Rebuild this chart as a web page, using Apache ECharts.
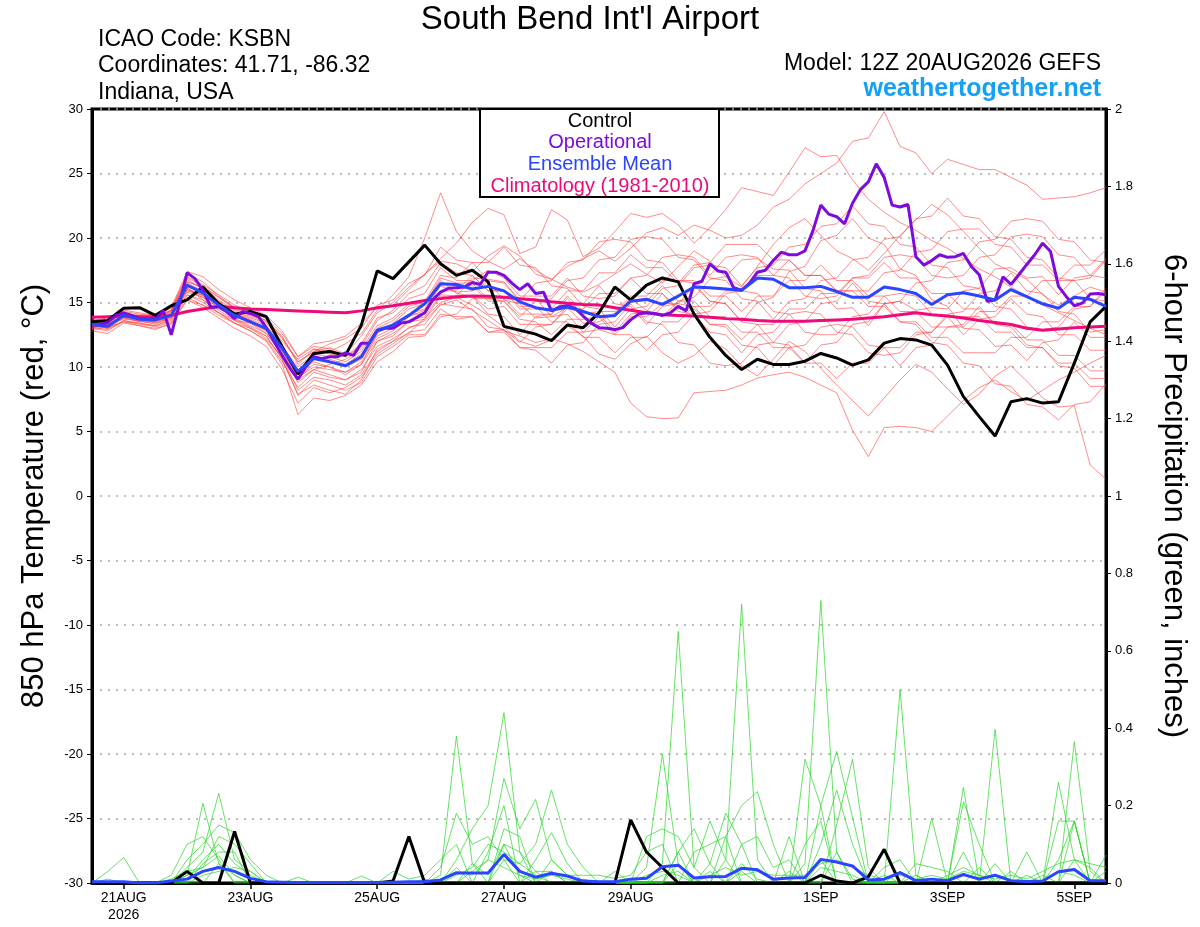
<!DOCTYPE html>
<html><head><meta charset="utf-8">
<script src="https://cdn.jsdelivr.net/npm/echarts@6/dist/echarts.min.js"></script>
<style>html,body{margin:0;padding:0;background:#fff}#c{width:1200px;height:927px}</style>
</head><body><div id="c"></div><script>
// ---- x domain: 3-hourly steps from 20AUG2026 12Z to 5SEP2026 12Z (129 steps)
const months = ['AUG','SEP'];
const timeCats = [];
for (let j = 0; j <= 128; j++) {
  const h = 12 + j * 3; const d = 20 + Math.floor(h / 24);
  const day = d > 31 ? d - 31 : d; const mon = d > 31 ? months[1] : months[0];
  timeCats.push(day + mon + ' ' + String(h % 24).padStart(2, '0') + 'Z');
}
const tickIndex = [4, 20, 36, 52, 68, 92, 108, 124];
const tickText = ['21AUG\n2026', '23AUG', '25AUG', '27AUG', '29AUG', '1SEP', '3SEP', '5SEP'];

// ---- 850 hPa temperature (deg C), 6-hourly (65 values)
const control = [13.5,13.6,14.55,14.6,14.0,14.75,15.2,16.2,14.9,14.1,
 14.3,13.9,11.55,9.45,11.05,11.2,10.9,13.25,17.45,16.85,
 18.15,19.45,18.0,17.1,17.5,16.6,13.15,12.85,12.55,12.05,
 13.25,13.05,14.2,16.2,15.2,16.35,16.9,16.6,14.1,12.3,
 10.9,9.8,10.6,10.2,10.2,10.45,11.05,10.7,10.15,10.55,
 11.85,12.2,12.1,11.7,10.15,7.7,6.15,4.65,7.3,7.55,
 7.2,7.3,10.3,13.5,14.7];
const ensMean = [13.3,13.15,14.0,13.7,13.65,14.0,16.35,15.75,14.8,14.0,
 13.5,13.0,11.45,9.65,10.65,10.4,10.1,10.8,12.85,13.25,
 14.0,14.9,16.45,16.4,16.05,16.25,15.9,15.05,14.6,14.4,
 14.65,14.3,13.9,14.0,15.1,15.25,14.85,15.5,16.2,16.15,
 16.05,15.95,16.9,16.8,16.15,16.15,16.25,15.85,15.4,15.4,
 16.2,16.0,15.7,14.85,15.6,15.75,15.5,15.2,16.0,15.45,
 14.9,14.55,15.4,15.25,14.7];
const climatology = [13.85,13.9,13.95,13.9,13.85,14.0,14.3,14.5,14.7,14.6,
 14.5,14.45,14.4,14.35,14.3,14.25,14.2,14.35,14.6,14.75,
 14.95,15.15,15.3,15.45,15.5,15.48,15.4,15.3,15.2,15.05,
 14.95,14.85,14.8,14.6,14.4,14.2,14.05,14.0,13.95,13.85,
 13.75,13.7,13.6,13.55,13.55,13.55,13.6,13.65,13.7,13.8,
 13.9,14.05,14.2,14.05,13.95,13.8,13.6,13.45,13.3,13.0,
 12.85,12.95,13.05,13.1,13.15];
// operational run, 3-hourly (129 values)
const operational = [13.25,13.3,13.45,14.0,14.2,14.0,13.75,13.7,13.7,14.35,
 12.5,14.8,17.3,16.85,15.95,14.65,14.65,14.3,13.75,14.3,
 14.15,13.9,13.05,11.95,10.9,9.9,9.05,10.0,10.8,10.65,
 10.8,10.8,11.1,10.9,11.85,11.85,12.8,13.0,13.0,13.4,
 13.5,13.85,14.2,15.2,15.8,16.1,16.15,16.2,16.55,16.4,
 17.35,17.35,17.1,16.5,16.0,16.45,15.7,15.8,14.35,14.65,
 14.75,14.55,13.95,13.4,13.05,13.0,12.9,13.05,13.65,14.1,
 14.2,14.15,14.0,14.2,14.7,14.35,16.45,16.65,18.0,17.45,
 17.35,16.15,15.95,16.5,17.35,17.5,18.25,18.9,18.7,18.7,
 19.0,20.55,22.55,21.85,21.65,21.1,22.7,23.75,24.35,25.75,
 24.7,22.55,22.4,22.6,18.55,17.9,18.25,18.7,18.5,18.55,
 18.8,17.8,17.15,15.1,15.2,17.0,16.4,17.15,17.95,18.7,
 19.6,18.95,16.25,15.45,14.75,14.95,15.65,15.7,15.6];
// ensemble members (6-hourly)
const tMembers = [
 [13.2,13.5,13.9,14.0,13.8,14.4, 17.2,16.6,15.5,14.6,14.2,13.6,12.2, 10.4,11.2,11.5,11.0,12.4,14.2,
  15.0,16.2,17.2,18.2,18.0,17.4,18.6,19.4,18.6,17.2,16.8,17.8, 18.4,19.0,18.2,19.2,20.4,20.8,20.2,21.0,20.6,20.0,
  20.2,21.0,22.4,23.0,24.2,25.0,25.8,27.5,27.75,29.8,27.1,26.6, 25.0,26.1,25.7,25.3,25.3,24.7,24.1,23.0,23.1,23.2,23.5,23.9],
 [13.5,13.0,14.2,13.8,13.4,13.9, 15.8,15.4,14.6,13.7,13.1,12.4,10.6, 7.9,8.6,8.2,7.9,9.0,11.4,
  12.0,12.6,13.8,15.0,15.4,14.8,14.0,13.1,12.0,11.6,12.1,13.2, 12.4,11.0,10.6,11.8,12.4,11.1,10.3,10.9,12.0,11.4,
  10.1,9.3,10.6,12.0,11.2,9.9,8.6,7.4,6.2,7.6,9.0,10.2, 9.6,8.3,7.1,7.9,9.3,10.1,8.9,7.6,6.9,7.0,2.4,1.3],
 [13.1,12.9,13.6,13.3,13.2,13.7, 15.6,15.2,14.2,13.4,12.8,12.1,10.4, 8.4,9.6,9.2,9.0,9.8,11.6,
  12.2,13.0,13.6,14.8,15.2,14.4,13.6,12.8,12.4,11.9,12.2,11.8, 11.2,10.4,9.6,7.2,6.15,6.0,6.05,8.0,8.1,8.2,
  8.6,9.15,9.4,9.6,9.2,8.6,8.0,5.1,3.05,5.3,5.4,5.3, 5.0,6.2,7.4,8.4,9.0,8.1,7.4,8.2,9.0,9.6,10.3,10.9],
 [13.6,13.4,14.3,14.1,13.9,14.3, 16.6,16.2,15.4,14.6,14.0,13.6,12.4, 10.2,11.4,11.2,11.8,12.6,14.4,
  15.6,17.0,20.0,23.5,20.5,19.0,18.2,17.6,18.4,17.5,16.8,16.2, 15.8,16.4,17.2,18.0,17.2,16.5,17.8,19.0,18.2,17.0,
  16.2,17.8,19.5,20.8,21.5,20.2,19.0,18.4,17.5,18.8,20.2,21.4, 22.6,21.8,20.5,19.2,18.0,17.4,16.8,15.6,14.8,15.5,16.2,15.8],
 [13.3,13.6,14.1,13.9,14.0,14.6, 17.4,17.0,16.0,15.2,14.6,14.0,12.8, 10.8,11.8,12.0,12.4,13.4,14.6,
  14.8,16.0,17.2,18.4,19.6,21.2,22.3,21.8,18.8,19.3,22.2,21.4, 18.55,19.2,20.5,21.9,21.6,21.9,21.0,19.6,20.8,22.2,
  23.9,23.6,23.3,25.1,27.0,26.3,26.4,24.5,23.0,22.0,21.2,20.6, 19.8,19.2,18.4,17.6,17.0,16.2,15.5,14.8,14.2,13.6,13.0,12.5],
 [13.0,13.3,13.7,13.6,13.3,13.8, 16.0,15.6,14.9,14.2,13.6,12.8,11.2, 9.2,10.2,10.0,9.6,10.4,12.2,
  12.8,13.9,14.4,16.3,15.8,15.9,16.6,15.2,14.9,13.8,13.9,14.6, 13.4,13.5,14.2,15.3,14.4,13.9,15.1,15.4,16.8,17.0,
  18.3,18.4,17.6,17.5,16.1,15.9,14.5,14.6,13.2,14.9,15.1,14.4, 14.6,14.5,15.9,16.1,17.6,17.7,16.9,17.0,15.6,16.9,17.1,18.4],
 [13.4,13.1,13.9,13.5,13.6,14.1, 16.2,15.2,14.4,13.6,13.4,12.6,11.0, 8.8,9.8,9.4,9.0,9.6,12.0,
  12.4,13.6,13.9,15.6,15.5,16.9,16.8,16.6,15.2,15.3,13.9,14.1, 12.7,12.9,12.5,13.9,13.9,14.9,14.9,16.3,15.1,14.9,
  13.5,15.0,15.4,17.4,17.8,19.8,20.2,21.5,20.0,19.5,17.6,17.1, 15.2,14.7,13.0,12.9,11.6,11.7,10.5,11.9,12.1,13.5,12.3,12.3],
 [13.2,13.0,13.5,13.4,13.1,13.5, 15.4,14.8,14.0,13.4,12.8,12.0,10.2, 6.3,7.6,7.4,7.8,8.6,10.4,
  11.2,12.3,12.4,13.9,14.1,15.3,15.3,15.1,13.7,13.5,12.5,13.7, 13.7,13.9,12.5,12.5,11.3,12.5,12.7,14.1,14.3,15.7,
  15.9,15.7,14.3,14.1,12.7,12.5,12.5,13.9,14.1,15.5,15.7,15.5, 14.1,13.9,12.5,13.7,13.9,15.3,14.1,13.9,12.5,12.5,11.3,11.3],
 [13.7,13.5,14.4,14.2,14.0,14.6, 17.0,16.4,15.6,14.8,14.2,13.8,12.6, 10.8,11.6,11.4,10.8,11.6,13.6,
  14.4,15.7,16.3,18.1,17.3,17.1,15.9,15.9,14.5,14.5,14.5,15.9, 15.9,17.3,17.3,18.7,17.7,17.7,16.5,17.9,18.1,19.5,
  19.5,19.5,18.3,18.3,17.1,17.1,15.9,15.9,15.9,17.3,17.5,18.9, 19.1,20.5,20.7,20.7,19.5,19.3,17.9,17.9,16.7,16.7,16.9,18.3],
 [12.8,12.6,13.4,13.2,12.9,13.4, 15.2,14.6,13.8,13.0,12.4,11.6,9.8, 7.2,8.4,8.0,8.4,9.2,11.0,
  11.8,12.7,12.9,14.5,13.7,13.9,12.7,12.9,11.9,13.1,13.3,14.7, 14.9,16.3,14.9,14.7,13.3,14.7,14.9,14.7,13.3,13.1,
  11.7,11.5,10.1,11.5,11.7,13.1,13.3,13.1,11.7,11.5,10.1,11.5, 11.7,13.1,13.3,14.7,13.3,13.1,11.7,11.5,10.1,9.9,8.5,8.5],
 [13.5,13.3,14.0,13.7,13.8,14.2, 16.4,15.8,15.0,14.2,13.6,13.0,11.6, 10.0,11.0,10.8,10.4,11.2,13.0,
  13.6,14.7,15.1,17.1,16.9,18.1,18.1,19.3,17.9,17.7,16.3,16.1, 14.7,14.5,13.1,14.5,14.7,16.1,16.3,17.7,17.9,17.7,
  16.3,17.7,17.9,19.3,19.5,20.9,21.1,22.5,21.1,20.9,19.5,19.3, 17.9,17.7,16.3,16.1,14.7,14.5,13.1,12.9,13.1,14.5,14.7,16.1],
 [13.1,13.4,13.8,13.6,13.5,14.0, 16.0,15.4,14.6,13.8,13.2,12.6,11.0, 9.0,9.8,10.2,10.6,11.4,13.2,
  13.8,14.9,14.9,16.7,15.7,15.5,14.1,13.9,12.5,13.9,14.1,15.5, 14.3,14.1,12.7,14.1,14.3,15.7,14.3,14.1,12.7,12.5,
  11.1,12.5,12.7,14.1,14.3,14.1,12.7,12.5,11.1,10.9,11.1,12.5, 12.7,14.1,14.3,15.7,15.9,17.3,15.9,15.7,14.3,14.1,12.7,12.9],
 [13.4,13.2,14.1,13.8,13.7,14.3, 16.8,16.0,15.0,14.0,13.4,12.8,11.4, 9.4,10.6,10.4,10.0,10.6,12.4,
  13.0,14.1,14.5,16.5,16.3,16.3,15.1,15.1,13.9,15.1,15.3,16.7, 16.9,18.3,18.5,19.9,20.1,19.9,18.5,18.3,16.9,16.7,
  15.3,15.1,13.7,15.1,15.3,16.7,16.9,18.3,18.5,19.9,20.1,21.5, 21.7,23.1,21.7,21.5,20.1,19.9,18.5,18.3,16.9,16.7,15.3,15.1],
 [13.0,12.8,13.6,13.4,13.2,13.6, 15.6,15.0,14.2,13.6,13.0,12.2,10.8, 8.2,9.2,9.0,8.6,9.4,11.2,
  12.0,13.1,13.3,14.9,14.7,14.5,13.1,12.9,11.5,11.3,10.3,11.7, 11.9,13.3,13.5,14.9,13.5,13.3,11.9,11.7,10.3,10.1,
  10.3,11.7,11.9,13.3,13.5,14.9,15.1,16.5,15.1,14.9,13.5,13.3, 11.9,11.7,10.3,10.1,8.7,8.5,7.1,6.9,5.9,7.1,7.3,8.7],
 [13.6,13.8,14.2,14.0,14.1,14.4, 16.6,16.2,15.2,14.4,13.8,13.4,12.0, 10.6,11.4,11.0,10.8,11.8,13.8,
  14.2,15.3,15.7,17.7,16.7,16.7,17.5,16.9,15.5,15.5,15.5,16.9, 15.5,15.3,15.5,16.9,17.1,18.5,18.7,18.5,17.1,18.5,
  18.7,18.5,17.1,16.9,15.5,15.3,15.5,16.9,17.1,18.5,18.7,18.5, 17.1,16.9,17.1,18.5,18.7,20.1,20.3,20.1,18.7,18.5,17.1,16.9],
 [13.2,13.0,13.8,13.5,13.4,13.8, 15.9,15.6,14.7,14.0,13.6,12.9,11.6, 9.8,10.8,10.6,10.2,11.0,12.8,
  13.2,14.1,14.1,15.9,15.9,17.1,15.9,15.9,14.7,14.7,13.5,13.5, 12.3,12.3,11.1,12.3,12.3,13.5,13.5,14.7,14.7,15.9,
  15.9,17.1,17.1,18.3,17.1,17.1,15.9,15.9,14.7,14.7,13.5,13.5, 12.3,12.3,11.1,11.1,11.1,12.3,12.3,13.5,13.5,14.7,14.7,15.9],
 [13.3,13.6,14.0,13.8,13.6,14.1, 16.5,15.9,15.1,14.3,13.7,13.2,11.8, 9.6,10.4,10.0,9.4,10.2,12.6,
  13.4,14.5,14.9,16.9,16.5,16.5,15.3,15.3,14.1,14.1,14.1,15.3, 14.1,14.3,14.3,15.5,15.5,16.7,16.7,16.7,15.5,15.5,
  14.3,15.5,15.5,16.7,16.7,17.9,16.7,16.7,15.5,15.5,14.3,14.3, 13.1,13.1,13.1,14.3,14.3,15.5,15.5,16.7,16.7,17.9,17.9,19.1],
 [12.9,13.1,13.5,13.2,13.0,13.3, 15.2,14.8,14.2,13.4,13.0,12.4,10.6, 7.8,9.0,8.6,8.2,8.8,10.8,
  11.6,12.5,12.5,14.1,13.9,13.9,12.7,12.7,11.5,11.5,11.5,12.7, 12.7,13.9,13.9,15.1,15.1,16.3,15.1,15.1,13.9,13.9,
  12.7,12.7,11.5,11.5,10.3,10.3,9.1,10.3,10.3,11.5,11.5,12.7, 12.7,13.9,13.9,13.9,12.7,12.7,11.5,11.5,10.3,10.3,9.1,9.1],
 [13.6,13.4,14.2,13.9,13.8,14.4, 16.9,16.3,15.4,14.5,13.9,13.5,12.3, 10.4,11.2,11.8,12.2,13.0,14.8,
  15.2,16.5,17.1,19.3,18.3,18.1,16.7,16.5,15.1,16.5,16.7,18.1, 18.3,19.7,19.9,19.7,18.3,18.1,16.7,16.5,15.1,14.9,
  13.5,13.3,11.9,11.7,10.3,11.7,11.9,13.3,13.5,14.9,15.1,16.5, 16.7,18.1,18.3,19.7,19.9,21.3,21.5,21.3,19.9,19.7,18.3,18.1],
 [13.1,13.3,13.9,13.7,13.5,13.9, 16.1,15.5,14.8,14.1,13.5,12.9,11.3, 9.2,10.0,9.8,9.6,10.2,12.0,
  12.6,13.5,13.7,15.5,15.3,15.5,14.5,14.7,13.3,13.3,13.3,14.5, 14.5,15.7,15.7,16.9,15.7,15.7,14.5,14.5,13.3,13.3,
  12.1,13.3,13.3,14.5,14.5,15.7,15.7,16.9,16.9,18.1,16.9,16.9, 15.7,15.7,14.5,14.5,13.3,13.3,12.1,12.1,10.9,10.9,9.7,9.7]
];

// ---- 6-hour precipitation (inches), 6-hourly (65 values)
const controlPrecip = [0,0,0,0,0,0,0.03,0,0,0.133, 0,0,0,0,0,0,0,0,0,0.005,
 0.12,0,0,0,0,0,0,0,0,0, 0,0,0,0,0.163,0.08,0.04,0,0,0,
 0,0,0,0,0,0,0.02,0.005,0,0.016, 0.087,0,0,0,0,0,0,0,0,0, 0,0,0,0,0];
const meanPrecip = [0.003,0.003,0.003,0,0,0.005,0.01,0.03,0.04,0.03, 0.012,0.003,0.002,0.001,0.001,0.001,0.001,0.001,0.001,0.002,
 0.003,0.003,0.008,0.026,0.026,0.026,0.074,0.03,0.015,0.025, 0.018,0.005,0.003,0.003,0.01,0.012,0.042,0.046,0.013,0.016,
 0.017,0.038,0.034,0.01,0.013,0.014,0.061,0.054,0.044,0.008, 0.01,0.027,0.006,0.01,0.006,0.022,0.01,0.02,0.006,0.004,
 0.005,0.029,0.035,0.006,0.006];
const pMembers = [
 [0,0.03,0.066,0,0,0,0.02,0.206,0.05,0.02, 0,0,0,0,0,0,0,0,0,0, 0,0,0.02,0.38,0.05,0.02,0.1,0.02,0,0.03,
  0,0,0,0,0,0,0.05,0.65,0.04,0, 0,0.05,0.01,0,0,0.05,0.73,0.08,0.01,0, 0,0.03,0,0,0,0.08,0,0.05,0,0, 0,0.06,0.16,0,0],
 [0,0.01,0,0,0,0,0.04,0.08,0.232,0.06, 0.03,0,0,0,0,0,0,0,0,0, 0,0,0,0.06,0.14,0.2,0.44,0.08,0.03,0,
  0,0,0,0,0,0.04,0.333,0.05,0,0, 0.06,0.72,0.06,0,0,0,0.1,0.24,0.1,0, 0,0.5,0.02,0,0,0,0.04,0,0,0, 0,0,0.365,0.03,0],
 [0,0,0,0,0,0.02,0.1,0.12,0.06,0, 0,0,0,0,0,0,0,0,0,0, 0,0,0,0,0.03,0.06,0.27,0.14,0.216,0.06,
  0.02,0,0,0,0,0.12,0.14,0.12,0.04,0.16, 0.06,0,0,0,0,0.32,0.2,0.34,0.17,0, 0,0,0,0.167,0,0.247,0,0,0,0, 0,0.26,0.06,0,0],
 [0,0,0,0,0,0,0.06,0.1,0.15,0.13, 0.06,0.02,0,0,0,0,0,0,0,0, 0,0,0.04,0.18,0.1,0.12,0.06,0.05,0.1,0.24,
  0.1,0.04,0,0,0,0,0,0.08,0.14,0.05, 0.18,0.1,0,0,0.12,0,0,0.15,0.32,0.04, 0,0,0,0,0,0.21,0.1,0,0,0, 0,0.16,0.16,0,0.072],
 [0,0,0,0,0,0.01,0.03,0.04,0.12,0.1, 0.05,0,0,0.015,0,0,0,0,0,0.03, 0.01,0.02,0.06,0.1,0,0.08,0.2,0,0.06,0.13,
  0.05,0,0,0.03,0,0,0,0,0.08,0.1, 0.12,0.2,0.236,0.1,0,0.1,0.16,0,0,0, 0.04,0.06,0,0,0,0,0,0.397,0,0.08, 0,0,0,0,0.03],
 [0,0,0,0,0,0,0,0.05,0.08,0.08, 0,0,0,0,0,0,0,0.018,0,0, 0,0.01,0,0.04,0,0,0.14,0.12,0,0.06,
  0.02,0.02,0.02,0.012,0.02,0.08,0.1,0,0,0, 0,0.1,0.12,0.04,0.06,0,0.06,0,0,0, 0.02,0,0.05,0.04,0.03,0,0,0,0.03,0, 0.02,0,0.06,0.04,0],
 [0,0,0,0,0,0,0,0.02,0.03,0.04, 0.03,0,0,0,0,0,0,0,0,0, 0,0,0,0,0,0,0.06,0,0.03,0.03,
  0,0,0,0,0,0,0,0.08,0,0, 0.12,0,0,0,0,0,0.2,0,0,0, 0,0,0,0,0,0,0,0,0,0, 0,0,0,0,0],
 [0,0,0,0,0,0,0,0,0.05,0, 0,0,0,0,0,0,0,0,0,0, 0,0,0,0,0.05,0,0.1,0.08,0,0,
  0,0,0,0,0,0,0,0.05,0,0.05, 0,0,0,0,0,0,0,0.08,0,0, 0,0,0,0,0,0,0,0,0,0, 0,0,0.16,0,0],
 [0,0,0,0,0,0,0.01,0.06,0.1,0.05, 0.02,0,0,0,0,0,0,0,0,0, 0,0,0.01,0.03,0.02,0.06,0.04,0.02,0.01,0.02,
  0.01,0,0,0,0,0.02,0.03,0.02,0,0.02, 0.04,0.02,0.03,0.02,0.02,0.02,0.05,0.06,0.04,0.02, 0.01,0.02,0.01,0.02,0.01,0.03,0.02,0.01,0.02,0.01, 0.03,0.05,0.06,0.05,0.04],
 [0,0,0,0,0,0,0.02,0.04,0.07,0.02, 0,0,0,0,0,0,0,0,0,0, 0,0,0,0.02,0.04,0.1,0.08,0.05,0.02,0,
  0,0.01,0,0,0,0,0.02,0.03,0,0.03, 0,0.03,0,0,0.03,0,0.04,0.03,0.02,0, 0,0,0.02,0,0.02,0.04,0.02,0,0,0.02, 0,0.03,0.02,0,0]
];

// map a 6-hourly list onto the 3-hourly category axis
const to3h = a => a.flatMap((v, i) => i < a.length - 1 ? [v, null] : [v]);

const FONT = 'Liberation Sans, Arial, Helvetica, sans-serif';
const C_OP = '#7d0cdc', C_MEAN = '#2a44ff', C_CLIM = '#ee0a7a';

const series = [];
tMembers.forEach(m => series.push({type: 'line', yAxisIndex: 0, data: to3h(m), connectNulls: true,
  symbol: 'none', silent: true, z: 1, lineStyle: {color: 'rgba(255,60,60,0.75)', width: 0.8}}));
pMembers.forEach(m => series.push({type: 'line', yAxisIndex: 1, data: to3h(m), connectNulls: true,
  symbol: 'none', silent: true, z: 2, lineStyle: {color: 'rgba(40,215,40,0.9)', width: 0.8}}));
series.push({name: 'Climatology', type: 'line', yAxisIndex: 0, data: to3h(climatology), connectNulls: true, symbol: 'none', z: 3, lineStyle: {color: C_CLIM, width: 3}});
series.push({name: 'Control', type: 'line', yAxisIndex: 0, data: to3h(control), connectNulls: true, symbol: 'none', z: 4, lineStyle: {color: '#000', width: 3}});
series.push({name: 'Control precip', type: 'line', yAxisIndex: 1, data: to3h(controlPrecip), connectNulls: true, symbol: 'none', z: 4, lineStyle: {color: '#000', width: 3}});
series.push({name: 'Operational', type: 'line', yAxisIndex: 0, data: operational, symbol: 'none', z: 5, lineStyle: {color: C_OP, width: 3}});
series.push({name: 'Ensemble Mean', type: 'line', yAxisIndex: 0, data: to3h(ensMean), connectNulls: true, symbol: 'none', z: 6, lineStyle: {color: C_MEAN, width: 3}});
series.push({name: 'Mean precip', type: 'line', yAxisIndex: 1, data: to3h(meanPrecip), connectNulls: true, symbol: 'none', z: 6, lineStyle: {color: C_MEAN, width: 3}});

const txt = (x, y, text, size, color, align, weight) => ({type: 'text', x, y, z: 101,
  style: {text, fill: color, font: (weight || 'normal') + ' ' + size + 'px ' + FONT,
    align: align, textAlign: align, verticalAlign: 'middle', textVerticalAlign: 'middle'}});

const chart = echarts.init(document.getElementById('c'), null, {renderer: 'canvas'});
chart.setOption({
  animation: false,
  backgroundColor: '#fff',
  textStyle: {fontFamily: FONT},
  grid: {left: 92, right: 94, top: 109, bottom: 44, containLabel: false, outerBoundsMode: 'none',
    show: true, borderColor: '#000', borderWidth: 3, backgroundColor: 'transparent'},
  xAxis: {type: 'category', data: timeCats, boundaryGap: false, position: 'bottom',
    axisLine: {show: true, onZero: false, lineStyle: {color: '#000', width: 3}},
    axisTick: {show: true, interval: i => tickIndex.includes(i), length: 6, lineStyle: {color: '#000', width: 1.5}},
    axisLabel: {interval: i => tickIndex.includes(i), formatter: (v, i) => {const k = tickIndex.indexOf(i); return k >= 0 ? tickText[k] : '';},
      color: '#000', fontSize: 14, lineHeight: 17, margin: 7, fontFamily: FONT},
    splitLine: {show: false}},
  yAxis: [
    {type: 'value', min: -30, max: 30, interval: 5, position: 'left',
     axisLine: {show: true, onZero: false, lineStyle: {color: '#000', width: 3}},
     axisTick: {show: true, length: 5, lineStyle: {color: '#000', width: 1}},
     axisLabel: {color: '#000', fontSize: 13, margin: 9, fontFamily: FONT},
     splitLine: {show: true, lineStyle: {type: [2, 6], color: '#a8a8a8', width: 1.5}},
     name: '850 hPa Temperature (red, °C)', nameLocation: 'middle', nameGap: 42,
     nameTextStyle: {fontSize: 31, color: '#000', fontFamily: FONT}},
    {type: 'value', min: 0, max: 2, interval: 0.2, position: 'right',
     axisLine: {show: true, onZero: false, lineStyle: {color: '#000', width: 3}},
     axisTick: {show: true, length: 5, lineStyle: {color: '#000', width: 1}},
     axisLabel: {color: '#000', fontSize: 13, margin: 9, fontFamily: FONT, formatter: v => String(+v.toFixed(1))},
     splitLine: {show: false},
     name: '6-hour Precipitation (green, inches)', nameLocation: 'middle', nameRotate: -90, nameGap: 52,
     nameTextStyle: {fontSize: 31, color: '#000', fontFamily: FONT}}
  ],
  graphic: [
    txt(590, 20, "South Bend Int'l Airport", 33, '#000', 'center'),
    txt(98, 40, 'ICAO Code: KSBN', 23, '#000', 'left'),
    txt(98, 66, 'Coordinates: 41.71, -86.32', 23, '#000', 'left'),
    txt(98, 93, 'Indiana, USA', 23, '#000', 'left'),
    txt(1101, 64, 'Model: 12Z 20AUG2026 GEFS', 23, '#000', 'right'),
    txt(1101, 89, 'weathertogether.net', 25, '#14a0f5', 'right', 'bold'),
    {type: 'rect', z: 100, shape: {x: 480, y: 109, width: 239, height: 88}, style: {fill: '#fff', stroke: '#000', lineWidth: 2}},
    txt(600, 121, 'Control', 20, '#000', 'center'),
    txt(600, 142, 'Operational', 20, C_OP, 'center'),
    txt(600, 164, 'Ensemble Mean', 20, C_MEAN, 'center'),
    txt(600, 186, 'Climatology (1981-2010)', 20, C_CLIM, 'center')
  ],
  series
});
</script></body></html>
